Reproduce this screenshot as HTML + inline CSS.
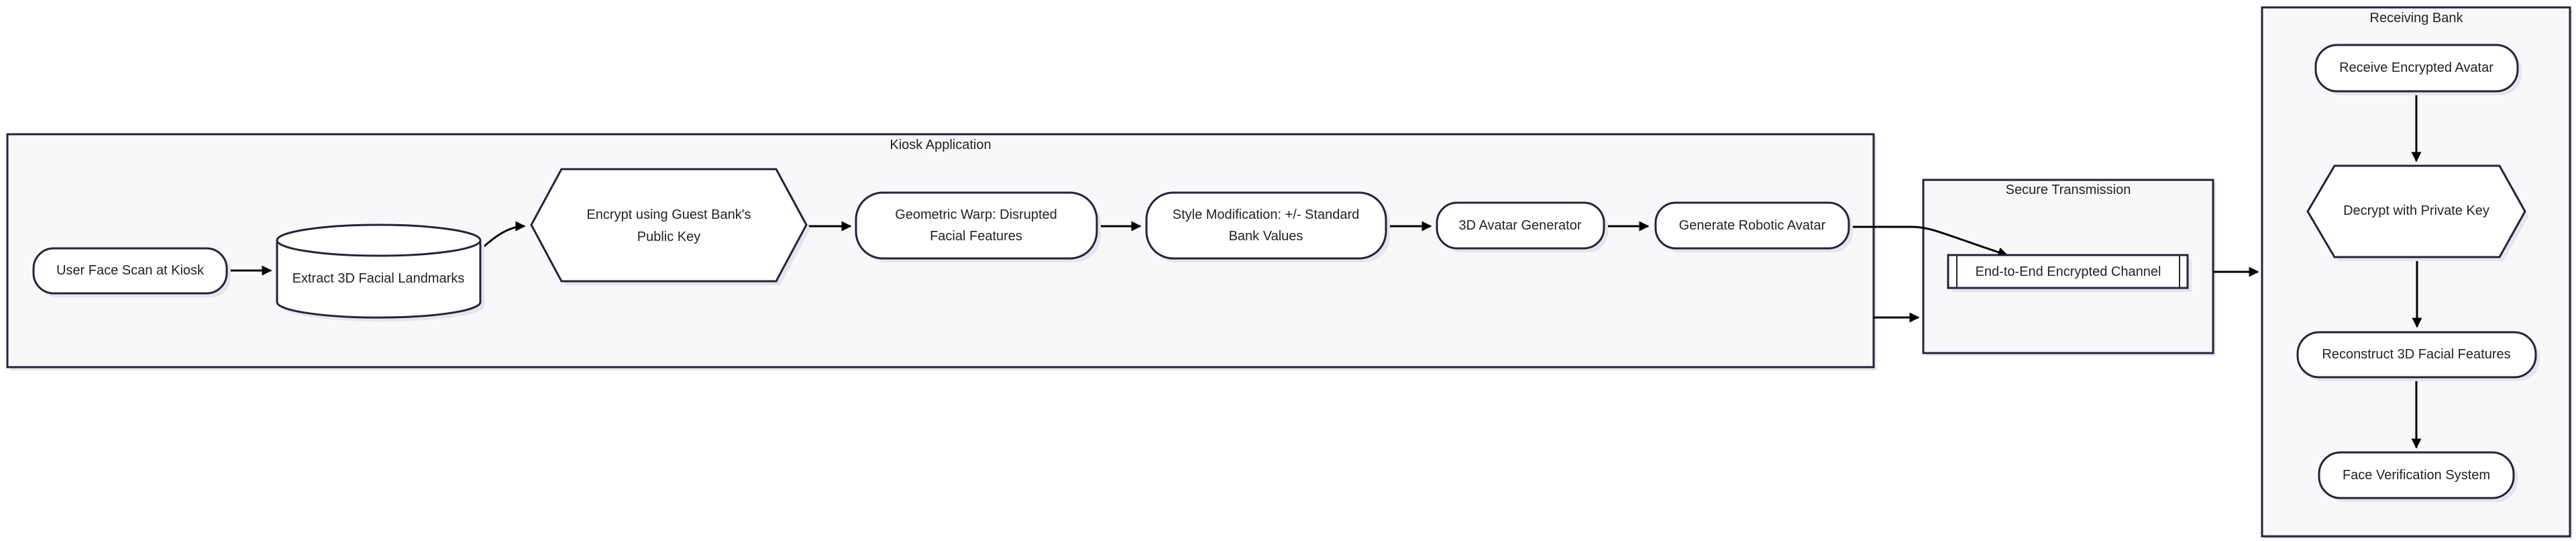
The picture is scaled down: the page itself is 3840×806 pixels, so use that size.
<!DOCTYPE html>
<html><head><meta charset="utf-8"><style>
html,body{margin:0;padding:0;background:#fff;}
svg{display:block;}
text{font-family:"Liberation Sans",sans-serif;font-size:20px;fill:#222;text-anchor:middle;dominant-baseline:central;}
.c{fill:#f8f8fa;stroke:#23233a;stroke-width:3;}
.n{fill:#fff;stroke:#23233a;stroke-width:3;}
.s{fill:#e6e6ea;stroke:none;}
.e{fill:none;stroke:#000;stroke-width:3;}
</style></head><body>
<svg width="3840" height="806" viewBox="0 0 3840 806" xmlns="http://www.w3.org/2000/svg">
<defs><marker id="a" viewBox="0 0 10 10" refX="9" refY="5" markerWidth="5" markerHeight="5" orient="auto"><path d="M0,0L10,5L0,10z" fill="#000"/></marker></defs>
<rect class="s" x="15" y="204" width="2782" height="348"/>
<rect class="c" x="11" y="200" width="2782" height="347"/>
<text x="1402" y="216">Kiosk Application</text>
<rect class="s" x="2871" y="272" width="432" height="258"/>
<rect class="c" x="2867" y="268" width="432" height="258"/>
<text x="3083" y="283">Secure Transmission</text>
<rect class="s" x="3376" y="15" width="459" height="788"/>
<rect class="c" x="3372" y="11" width="459" height="788"/>
<text x="3602" y="27">Receiving Bank</text>
<path class="e" d="M338,403H404" marker-end="url(#a)"/>
<path class="e" d="M716,372C740,350 760,337 782,337" marker-end="url(#a)"/>
<path class="e" d="M1202,337H1268" marker-end="url(#a)"/>
<path class="e" d="M1635,337H1700" marker-end="url(#a)"/>
<path class="e" d="M2066,337H2133" marker-end="url(#a)"/>
<path class="e" d="M2391,337H2457" marker-end="url(#a)"/>
<path class="e" d="M2756,338H2850C2880,338 2900,350 2992,380" marker-end="url(#a)"/>
<path class="e" d="M2793,473H2860" marker-end="url(#a)"/>
<path class="e" d="M3299,405H3366" marker-end="url(#a)"/>
<path class="e" d="M3602,136V240" marker-end="url(#a)"/>
<path class="e" d="M3603,383V487" marker-end="url(#a)"/>
<path class="e" d="M3602,562V667" marker-end="url(#a)"/>
<rect class="s" x="56" y="376" width="288" height="67" rx="30"/>
<rect class="n" x="50" y="370" width="288" height="67" rx="30"/>
<text x="194" y="403">User Face Scan at Kiosk</text>
<path class="s" d="M419,364V456A151,23 0 0 0 722,456V364z"/>
<path class="n" d="M413,358V450A151,23 0 0 0 716,450V358"/>
<ellipse class="n" cx="564.5" cy="358" rx="151.5" ry="23"/>
<text x="564" y="415">Extract 3D Facial Landmarks</text>
<polygon class="s" points="843,258 1163,258 1208,341 1163,425 843,425 798,341"/>
<polygon class="n" points="837,252 1157,252 1202,335 1157,419 837,419 792,335"/>
<text x="997" y="320">Encrypt using Guest Bank's</text>
<text x="997" y="353">Public Key</text>
<rect class="s" x="1282" y="293" width="359" height="98" rx="40"/>
<rect class="n" x="1276" y="287" width="359" height="98" rx="40"/>
<text x="1455" y="320">Geometric Warp: Disrupted</text>
<text x="1455" y="352">Facial Features</text>
<rect class="s" x="1715" y="293" width="357" height="98" rx="40"/>
<rect class="n" x="1709" y="287" width="357" height="98" rx="40"/>
<text x="1887" y="320">Style Modification: +/- Standard</text>
<text x="1887" y="352">Bank Values</text>
<rect class="s" x="2148" y="308" width="249" height="68" rx="30"/>
<rect class="n" x="2142" y="302" width="249" height="68" rx="30"/>
<text x="2266" y="336">3D Avatar Generator</text>
<rect class="s" x="2474" y="308" width="288" height="68" rx="30"/>
<rect class="n" x="2468" y="302" width="288" height="68" rx="30"/>
<text x="2612" y="336">Generate Robotic Avatar</text>
<rect class="s" x="2910" y="386" width="357" height="49"/>
<rect class="n" x="2904" y="380" width="357" height="49"/>
<path class="e" style="stroke:#23233a;stroke-width:2" d="M2917,380V429M3249,380V429"/>
<text x="3083" y="405">End-to-End Encrypted Channel</text>
<rect class="s" x="3458" y="73" width="301" height="69" rx="32"/>
<rect class="n" x="3452" y="67" width="301" height="69" rx="32"/>
<text x="3602" y="101">Receive Encrypted Avatar</text>
<polygon class="s" points="3486,253 3732,253 3770,321 3732,389 3486,389 3446,321"/>
<polygon class="n" points="3480,247 3726,247 3764,315 3726,383 3480,383 3440,315"/>
<text x="3602" y="314">Decrypt with Private Key</text>
<rect class="s" x="3431" y="501" width="355" height="67" rx="32"/>
<rect class="n" x="3425" y="495" width="355" height="67" rx="32"/>
<text x="3602" y="528">Reconstruct 3D Facial Features</text>
<rect class="s" x="3463" y="680" width="290" height="68" rx="32"/>
<rect class="n" x="3457" y="674" width="290" height="68" rx="32"/>
<text x="3602" y="708">Face Verification System</text>
</svg>
</body></html>
